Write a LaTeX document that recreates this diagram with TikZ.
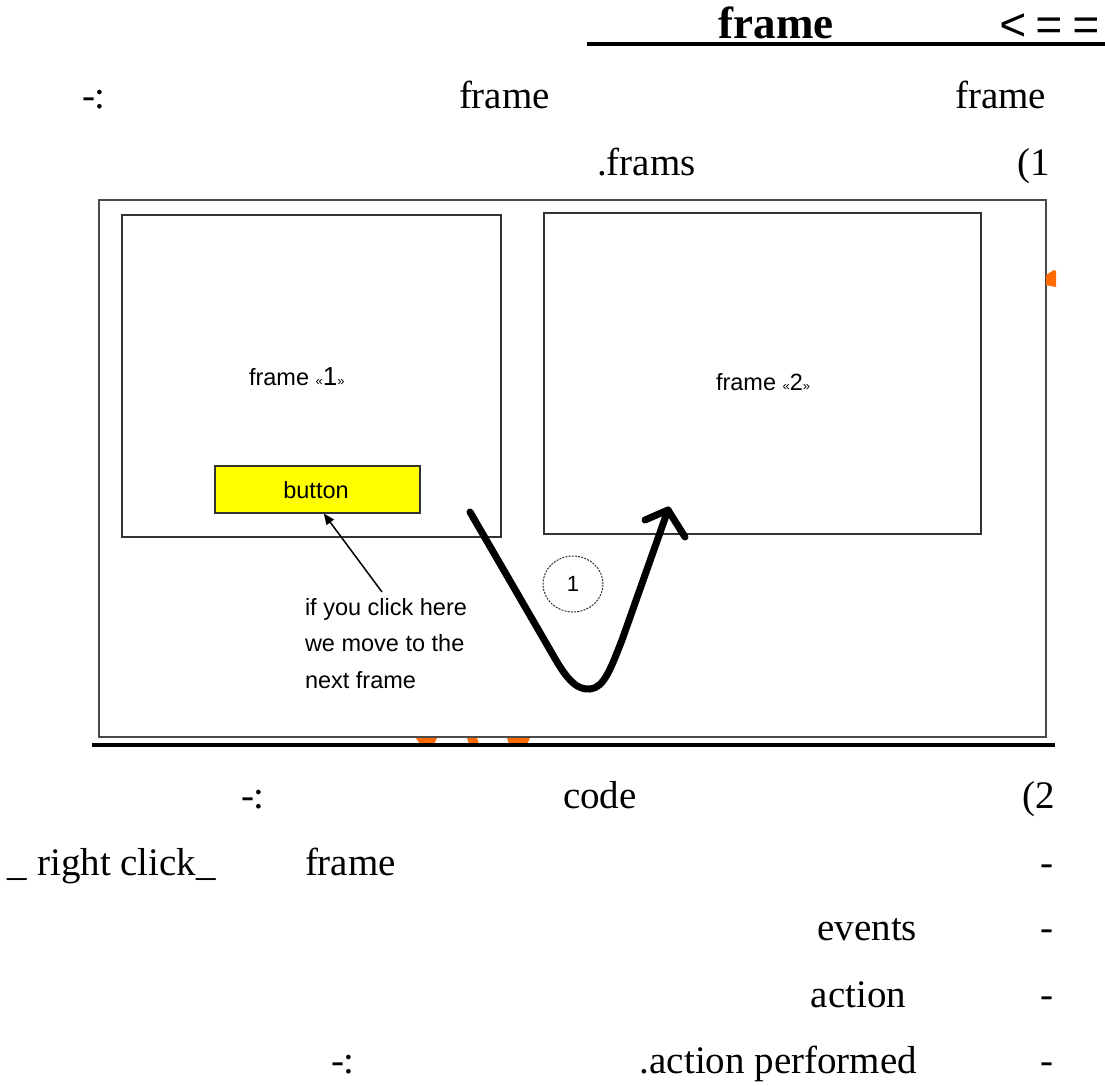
\documentclass[tikz,border=0pt]{standalone}
\usepackage{fontspec}
\setmainfont{Liberation Serif}
\newfontfamily\armono{Liberation Mono}
\newfontfamily\arsans{Liberation Sans}
\usetikzlibrary{arrows.meta,shapes.geometric}
\definecolor{boxgray}{HTML}{333333}
\definecolor{outgray}{HTML}{4A4A4A}
\definecolor{blob}{HTML}{FF6A00}
\definecolor{btnyellow}{HTML}{FFFF00}
\begin{document}
\begin{tikzpicture}[x=1pt,y=-1pt,
  doc/.style={inner sep=0pt, outer sep=0pt, font=\fontsize{39}{44}\selectfont},
  headtxt/.style={inner sep=0pt, outer sep=0pt, font=\fontsize{45}{50}\selectfont\bfseries},
  sans/.style={inner sep=0pt, outer sep=0pt, font=\arsans\fontsize{23.5}{36.5}\selectfont},
  win/.style={draw=boxgray, line width=1.5pt, inner sep=0pt, anchor=north west},
  stroke/.style={line width=7pt, line cap=round, line join=round},
  rule/.style={line width=3.5pt}]
\useasboundingbox (0,0) rectangle (1105,1085);

% heading
\node[headtxt, anchor=base] (head) at (776,38) {frame};
\node[inner sep=0pt, anchor=base west, font=\armono\fontsize{46}{48}\selectfont] (arr) at (999,40) {<\kern9pt=\kern9pt=};
\coordinate (ulA) at (587,44);
\coordinate (ulB) at (1105,44);
\draw[line width=4pt] (ulA) -- (ulB);

% line 2 and 3
\node[doc, anchor=base west] (t1) at (82,108) {-:};
\node[doc, anchor=base west] (t2) at (459,108) {frame};
\node[doc, anchor=base east] (t3) at (1046,108) {frame};
\node[doc, anchor=base west] (t4) at (597,175) {.frams};
\node[doc, anchor=base east] (t5) at (1050,175) {(1};

% diagram
\node[win, draw=outgray, line width=2pt, minimum width=947pt, minimum height=537pt] (outer) at (98,199) {};
\node[win, minimum width=379pt, minimum height=322pt] (f1) at (121,214) {};
\node[win, minimum width=437pt, minimum height=321pt] (f2) at (543,212) {};
\node[win, fill=btnyellow, minimum width=205pt, minimum height=47pt] (btn) at (214,465) {};
\node[sans] (btntxt) at (316,490) {button};
\node[sans, anchor=base west] (f1txt) at (249,385) {frame {\fontsize{13}{13}\selectfont«}{\fontsize{26}{26}\selectfont 1}{\fontsize{13}{13}\selectfont»}};
\node[sans, anchor=base west] (f2txt) at (716,390) {frame {\fontsize{13}{13}\selectfont«}2{\fontsize{13}{13}\selectfont»}};

\node[sans, align=left, anchor=north west] (note) at (305,598) {if you click here\\ we move to the\\next frame};
\coordinate (tail) at (382,592);
\draw[line width=1.5pt, -{Triangle[length=11pt,width=9pt]}] (tail) -- ([xshift=6.5pt]btn.south);

\node[draw=boxgray, ellipse, dash pattern=on 2pt off 1.2pt, line width=1pt, minimum width=60pt, minimum height=56pt, inner sep=0pt, font=\arsans\fontsize{22}{22}\selectfont] (c1) at (573,584) {1};

\coordinate (s) at (470,512);
\coordinate (tip) at (668,510);
\coordinate (barbL) at (645,520);
\coordinate (barbR) at (685,537);
\draw[stroke] (s) -- (553,655) .. controls (568,682) and (578,690) .. (590,689) .. controls (604,688) and (611,668) .. (622,640) -- (tip);
\draw[stroke] (barbL) -- (tip) -- (barbR);

% orange marks
\fill[blob] (1046,275) -- (1054,270) -- (1056,271) -- (1056,287) -- (1046,285) -- cycle;
\fill[blob] (416,738) -- (437,738) -- (434,744) -- (420,744) -- cycle;
\fill[blob] (467,738) -- (477,738) -- (479,744) -- (469,744) -- cycle;
\fill[blob] (507,738) -- (530,738) -- (527,744) -- (509,744) -- cycle;

\coordinate (blA) at (92,745);
\coordinate (blB) at (1055,745);
\draw[rule] (blA) -- (blB);

% lower text
\node[doc, anchor=base west] (b1) at (241,808) {-:};
\node[doc, anchor=base west] (b2) at (563,808) {code};
\node[doc, anchor=base east] (b3) at (1055,808) {(2};
\node[doc, anchor=base west] (b4) at (8,875) {\_ right click\_};
\node[doc, anchor=base west] (b5) at (305,875) {frame};
\node[doc, anchor=base east] (b6) at (1053,875) {-};
\node[doc, anchor=base east] (b7) at (917,940) {events};
\node[doc, anchor=base east] (b8) at (1053,940) {-};
\node[doc, anchor=base east] (b9) at (906,1007) {action};
\node[doc, anchor=base east] (b10) at (1053,1007) {-};
\node[doc, anchor=base east] (b11) at (917,1073) {.action performed};
\node[doc, anchor=base west] (b12) at (331,1073) {-:};
\node[doc, anchor=base east] (b13) at (1053,1073) {-};
\end{tikzpicture}
\end{document}
